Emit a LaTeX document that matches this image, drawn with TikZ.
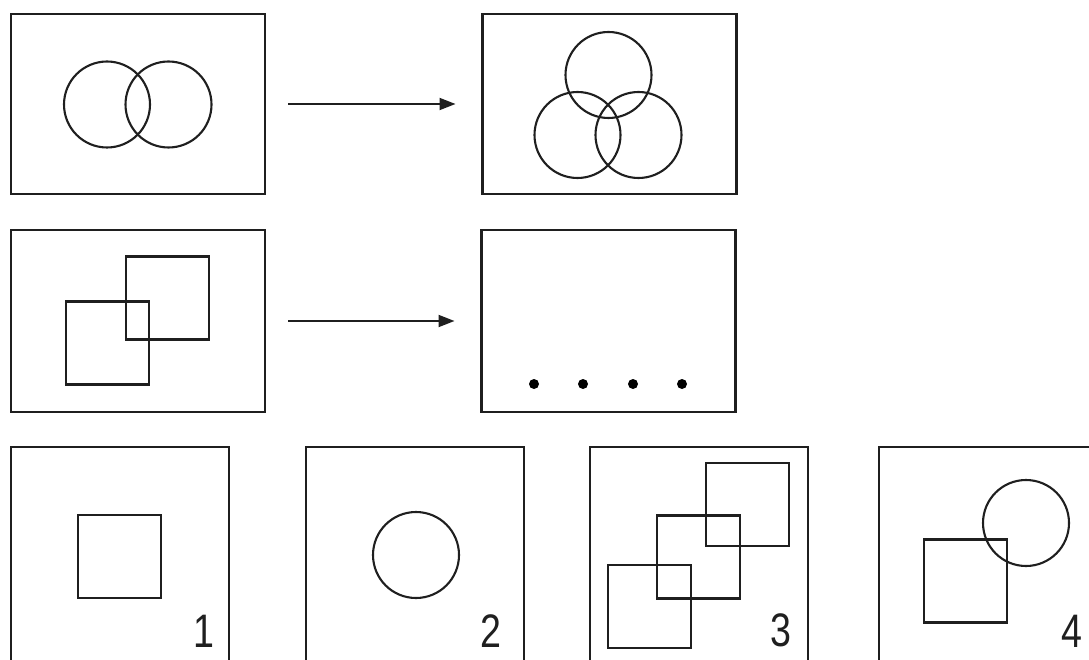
\documentclass[tikz,border=0pt]{standalone}
\usepackage{fontspec}
\setmainfont{Liberation Sans}
\usetikzlibrary{arrows.meta}
\begin{document}
\begin{tikzpicture}[x=1pt,y=-1pt,
  frame/.style={draw=black!88, line width=2.2pt, rectangle, inner sep=0pt, outer sep=0pt},
  topframe/.style={frame, minimum width=254pt, minimum height=180pt},
  tallframe/.style={frame, minimum width=218pt, minimum height=260pt},
  figline/.style={draw=black!88, line width=2.1pt},
  sq/.style={figline, rectangle, inner sep=0pt, minimum size=83pt},
  ring/.style={figline, circle, inner sep=0pt, minimum size=86pt},
  dot/.style={fill=black, circle, inner sep=0pt, minimum size=10pt},
  link/.style={draw=black!88, line width=1.8pt, -{Triangle[length=16pt,width=12pt]}},
  num/.style={font=\fontsize{47}{47}\selectfont, inner sep=0pt, anchor=base, text=black!88, xscale=0.8}]
\useasboundingbox (0,0) rectangle (1089,660);
\fill[white] (0,0) rectangle (1089,660);
\clip (0,0) rectangle (1089,660);

% top row
\node[topframe] (A) at (138,104) {};
\node[topframe] (B) at (609.5,104) {};
\node[ring] (a1) at (107,104.5) {};
\node[ring] (a2) at (168.5,104.5) {};
\node[ring] (b1) at (608.5,75) {};
\node[ring] (b2) at (577.5,135) {};
\node[ring] (b3) at (638.5,135) {};
\draw[link, shorten <=23pt, shorten >=27pt] (A) -- (B);

% second row
\node[topframe, minimum height=182pt] (C) at (138,321) {};
\node[topframe, minimum height=182pt] (D) at (608.5,321) {};
\node[sq] (c1) at (167.5,298) {};
\node[sq] (c2) at (107.5,343) {};
\node[dot] (d1) at (534,384) {};
\node[dot] (d2) at (583,384) {};
\node[dot] (d3) at (633,384) {};
\node[dot] (d4) at (682,384) {};
\draw[link, shorten <=23pt, shorten >=27pt] (C) -- (D);

% answer row
\node[tallframe] (E1) at (120,577) {};
\node[tallframe] (E2) at (415,577) {};
\node[tallframe] (E3) at (699,577) {};
\node[tallframe] (E4) at (988,577) {};

\node[sq] (s1) at (119.5,556.5) {};
\node[ring] (r2) at (416,555) {};
\node[sq] (s3a) at (747.5,504.5) {};
\node[sq] (s3b) at (698.5,557) {};
\node[sq] (s3c) at (649.5,606.5) {};
\node[ring] (r4) at (1026,523) {};
\node[sq] (s4) at (965.5,581) {};

\node[num] (n1) at (204,647) {1};
\node[num] (n2) at (491,647) {2};
\node[num] (n3) at (781,646) {3};
\node[num] (n4) at (1072,647) {4};
\end{tikzpicture}
\end{document}
